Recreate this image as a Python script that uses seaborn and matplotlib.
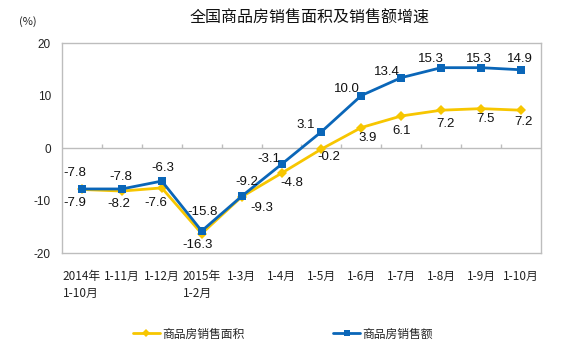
import numpy as np
import pandas as pd
import matplotlib
matplotlib.use("Agg")
import matplotlib.pyplot as plt
import seaborn as sns

# Monthly cumulative growth rates (%)
periods = ["2014年\n1-10月", "1-11月", "1-12月", "2015年\n1-2月", "1-3月", "1-4月",
           "1-5月", "1-6月", "1-7月", "1-8月", "1-9月", "1-10月"]
area_growth = [-7.9, -8.2, -7.6, -16.3, -9.3, -4.8, -0.2, 3.9, 6.1, 7.2, 7.5, 7.2]
sales_growth = [-7.8, -7.8, -6.3, -15.8, -9.2, -3.1, 3.1, 10.0, 13.4, 15.3, 15.3, 14.9]
series_names = ["商品房销售面积", "商品房销售额"]
y_ticks = [-20, -10, 0, 10, 20]

sns.set_theme(style="white")
plt.rcParams["font.family"] = ["Liberation Sans", "Noto Sans CJK SC", "DejaVu Sans"]
cjk = ["Noto Sans CJK SC", "DejaVu Sans"]

yellow = "#F7C600"
blue = "#0A66B8"
frame = "#BDBDBD"

df = pd.DataFrame({
    "idx": list(range(len(periods))) * 2,
    "value": area_growth + sales_growth,
    "series": [series_names[0]] * len(periods) + [series_names[1]] * len(periods),
})

fig = plt.figure(figsize=(5.62, 3.44), dpi=100)
ax = fig.add_axes([0.1103, 0.2645, 0.8523, 0.6105])

sns.lineplot(data=df, x="idx", y="value", hue="series", style="series",
             palette=[yellow, blue], markers=["D", "s"], dashes=False,
             linewidth=2.0, markersize=5.5, markeredgewidth=0, ax=ax)

ax.set_xlim(-0.5, len(periods) - 0.5)
ax.set_ylim(-20, 20)
ax.set_yticks(y_ticks)
ax.set_yticklabels([str(v) for v in y_ticks], fontsize=8.5, color="#222222")
ax.set_xticks(range(len(periods)))
ax.set_xticklabels(periods, fontsize=8.5, family=cjk, color="#222222",
                   ha="center", multialignment="left", linespacing=1.4)
ax.tick_params(axis="both", length=0, pad=8)
ax.tick_params(axis="x", pad=12)
ax.set_xlabel("")
ax.set_ylabel("")
for s in ax.spines.values():
    s.set_color(frame)
    s.set_linewidth(1.0)

# zero line with small upward ticks between categories
ax.axhline(0, color=frame, linewidth=1.0, zorder=1)
bounds = np.arange(1, len(periods)) - 0.5
ax.vlines(bounds, 0, 0.8, color=frame, linewidth=1.0, zorder=1)

# value labels (pixel offsets from each point)
area_off = [(-7, -14), (-3, -13), (-6, -15), (-4, -11), (20, -11), (10, -10),
            (7, -8), (6, -10), (0, -15), (4, -14), (4, -10), (2, -12)]
sales_off = [(-7, 16), (-1, 12), (1, 13), (1, 19), (5, 14), (-13, 5),
             (-16, 7), (-14, 7), (-14, 6), (-10, 9), (-2, 9), (-1, 11)]
for i in range(len(periods)):
    ax.annotate(f"{area_growth[i]:.1f}", (i, area_growth[i]), xytext=area_off[i],
                textcoords="offset pixels", ha="center", va="center",
                fontsize=9.5, color="#111111")
    ax.annotate(f"{sales_growth[i]:.1f}", (i, sales_growth[i]), xytext=sales_off[i],
                textcoords="offset pixels", ha="center", va="center",
                fontsize=9.5, color="#111111")

fig.text(310 / 562, 1 - 18 / 344, "全国商品房销售面积及销售额增速", ha="center",
         va="center", fontsize=11.5, family=cjk, color="#111111")
fig.text(28 / 562, 1 - 22 / 344, "(%)", ha="center", va="center",
         fontsize=8, family=cjk, color="#222222")

handles, labels = ax.get_legend_handles_labels()
leg = ax.legend(handles, labels, loc="center", bbox_to_anchor=(283 / 562, 1 - 334 / 344),
                bbox_transform=fig.transFigure, ncol=2, frameon=False,
                prop={"family": cjk, "size": 8.5}, handlelength=2.3,
                handletextpad=0.2, columnspacing=7.5, markerscale=0.8)

fig.savefig("out.png", dpi=100)
